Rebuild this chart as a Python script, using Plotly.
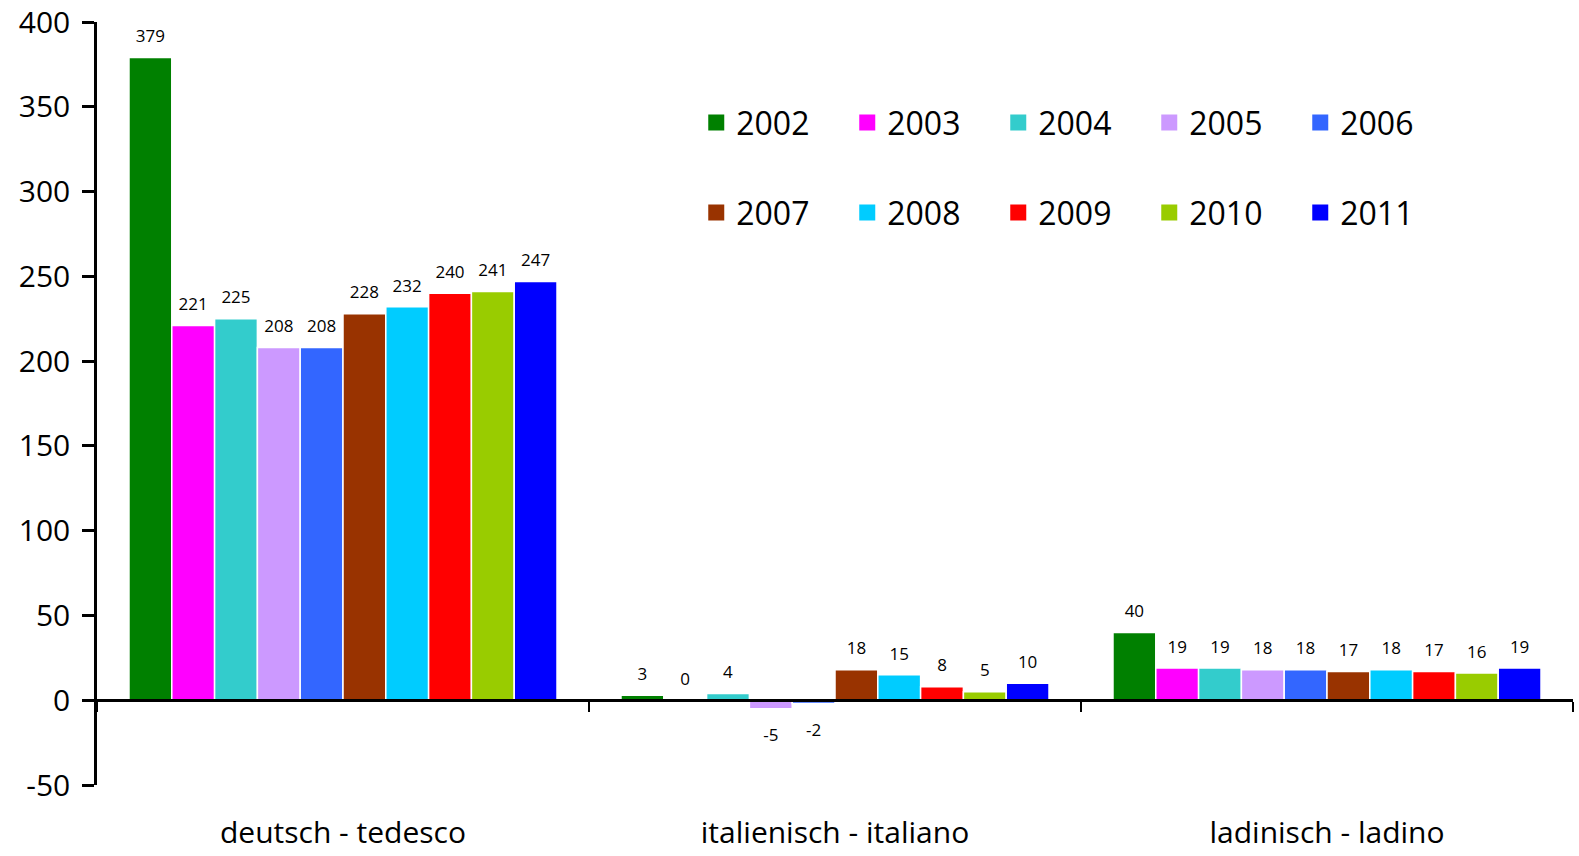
import plotly.graph_objects as go

# --- data ---
categories = ['deutsch - tedesco', 'italienisch - italiano', 'ladinisch - ladino']
years = ['2002', '2003', '2004', '2005', '2006', '2007', '2008', '2009', '2010', '2011']
deutsch = [379, 221, 225, 208, 208, 228, 232, 240, 241, 247]
italienisch = [3, 0, 4, -5, -2, 18, 15, 8, 5, 10]
ladinisch = [40, 19, 19, 18, 18, 17, 18, 17, 16, 19]
colors = ['#008000', '#FF00FF', '#33CCCC', '#CC99FF', '#3366FF',
          '#993300', '#00CCFF', '#FF0000', '#99CC00', '#0000FF']
y_ticks = [-50, 0, 50, 100, 150, 200, 250, 300, 350, 400]
y_ticktext = ['-50', '0', '50', '100', '150', '200', '250', '300', '350', '400']

FONT = 'Open Sans'

fig = go.Figure()
for i, yr in enumerate(years):
    vals = [deutsch[i], italienisch[i], ladinisch[i]]
    fig.add_trace(go.Bar(
        x=categories, y=vals, name=yr, offsetgroup=yr, showlegend=False,
        marker=dict(color=colors[i], line=dict(color='white', width=1.5)),
        hoverinfo='x+y+name'))
    # value labels, pushed off the bar by an invisible marker
    fig.add_trace(go.Scatter(
        x=categories, y=vals, offsetgroup=yr, mode='markers+text',
        text=[str(v) for v in vals],
        textposition=['bottom center' if v < 0 else 'top center' for v in vals],
        textfont=dict(family=FONT, size=17, color='black'),
        marker=dict(size=[30 if v < 0 else 16 for v in vals],
                    color='rgba(0,0,0,0)', line=dict(width=0)),
        showlegend=False, hoverinfo='skip', cliponaxis=False))

# legend entries: square swatches, two rows of five
for i, yr in enumerate(years):
    fig.add_trace(go.Scatter(
        x=[categories[0]], y=[None], mode='markers', name=yr,
        marker=dict(symbol='square', size=20, color=colors[i]),
        legend='legend' if i < 5 else 'legend2', hoverinfo='skip'))

# zero line axis with ticks between categories
fig.add_trace(go.Scatter(x=categories, y=[None] * 3, xaxis='x2',
                         showlegend=False, hoverinfo='skip'))

legend_common = dict(orientation='h', xanchor='left', yanchor='middle',
                     font=dict(family=FONT, size=32, color='black'),
                     entrywidth=106, entrywidthmode='pixels',
                     bgcolor='rgba(0,0,0,0)', traceorder='normal',
                     itemsizing='trace')

fig.update_layout(
    width=1579, height=856,
    margin=dict(l=97, r=6, t=22, b=71, autoexpand=False),
    paper_bgcolor='white', plot_bgcolor='white',
    barmode='group', bargap=0.13, bargroupgap=0,
    scattermode='group', scattergap=0.13,
    font=dict(family=FONT, color='black'),
    legend=dict(x=0.406, y=0.868, **legend_common),
    legend2=dict(x=0.406, y=0.75, **legend_common),
    xaxis=dict(type='category', categoryorder='array', categoryarray=categories,
               range=[-0.5, 2.5], automargin=False,
               showline=False, ticks='', showgrid=False, zeroline=False,
               tickfont=dict(family=FONT, size=30, color='black'),
               ticklabelstandoff=27),
    xaxis2=dict(type='category', categoryorder='array', categoryarray=categories,
                overlaying='x', anchor='free', position=50 / 450, automargin=False,
                showline=True, linecolor='black', linewidth=3,
                ticks='outside', tickson='boundaries', ticklen=10, tickwidth=2,
                tickcolor='black', showticklabels=False, showgrid=False,
                zeroline=False, range=[-0.5, 2.5]),
    yaxis=dict(range=[-50, 400], tickvals=y_ticks, ticktext=y_ticktext,
               showgrid=False, zeroline=False, automargin=False,
               ticklabeloverflow='allow',
               showline=True, linecolor='black', linewidth=2.5,
               ticks='outside', ticklen=12, tickwidth=2.5, tickcolor='black',
               tickfont=dict(family=FONT, size=30, color='black'),
               ticklabelstandoff=6),
)

# drop the default 8px page margin so the figure fills the window exactly
fig.write_html('out.html', config={'displayModeBar': False},
               post_script="document.body.style.margin = '0';")
